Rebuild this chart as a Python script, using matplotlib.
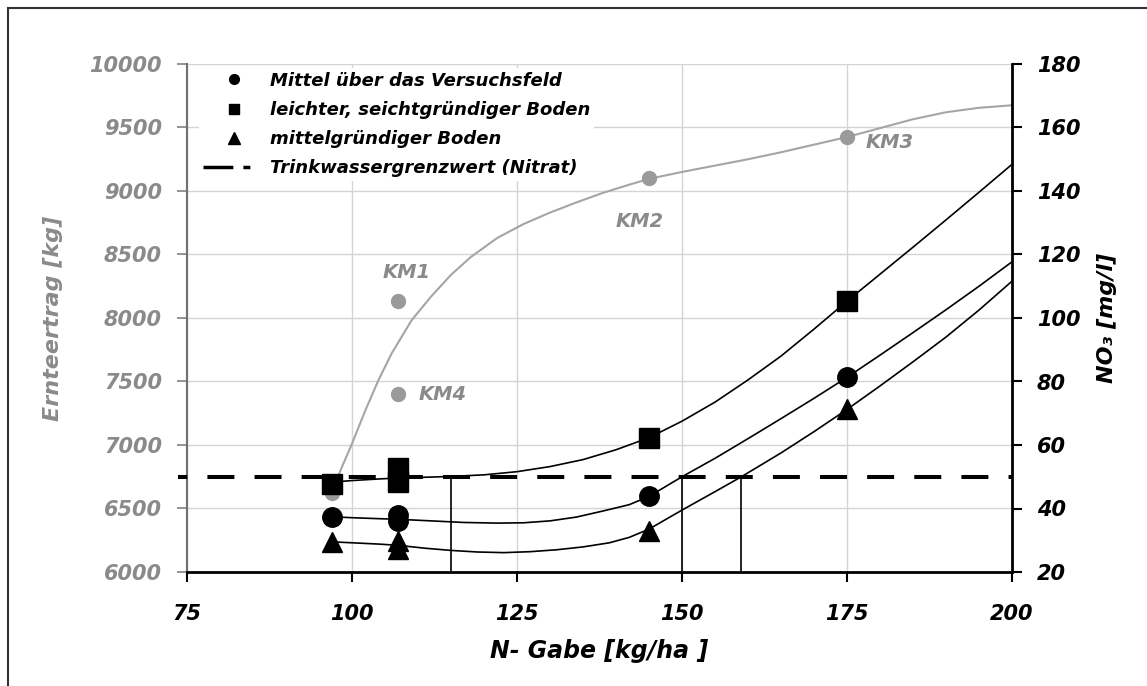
import matplotlib
matplotlib.use("Agg")
import matplotlib.pyplot as plt
from matplotlib.lines import Line2D

plt.rcParams['font.family'] = ['DejaVu Sans']
plt.rcParams['font.weight'] = 'bold'
plt.rcParams['font.style'] = 'italic'
plt.rcParams['axes.labelweight'] = 'bold'

# N-Gabe [kg/ha] der Messpunkte
n_gabe = [97, 107, 107, 145, 175]

# Ernteertrag [kg] (graue Punkte, linke Achse)
ertrag = [6620, 8130, 7400, 9100, 9425]
ertrag_labels = ['', 'KM1', 'KM4', 'KM2', 'KM3']

# Nitrat NO3 [mg/l] (rechte Achse)
mittel = [37.4, 38.0, 36.0, 43.8, 81.3]
leicht = [47.7, 52.9, 48.5, 62.3, 105.3]
mittelgr = [29.5, 29.8, 27.2, 33.0, 71.2]

# Ausgleichskurven
ertrag_kurve_x = [97, 98.5, 100, 102, 104, 106, 109, 112, 115, 118, 122, 126, 130,
                  134, 138, 142, 145, 150, 155, 160, 165, 170, 175, 180, 185, 190, 195, 200]
ertrag_kurve_y = [6640, 6830, 7010, 7270, 7510, 7720, 7980, 8170, 8340, 8480, 8630, 8740, 8830,
                  8910, 8985, 9050, 9095, 9150, 9200, 9250, 9305, 9365, 9425, 9495, 9565, 9620, 9655, 9675]

leicht_kurve_x = [97, 100, 104, 107, 112, 115, 120, 125, 130, 135, 140, 145, 150, 155, 160,
                  165, 170, 175, 180, 185, 190, 195, 200]
leicht_kurve_y = [48.3, 48.8, 49.3, 49.6, 49.9, 50.1, 50.6, 51.6, 53.2, 55.4, 58.5, 62.3, 67.5,
                  73.5, 80.5, 88.0, 96.5, 105.3, 113.8, 122.3, 130.9, 139.6, 148.4]

mittel_kurve_x = [97, 100, 104, 107, 112, 117, 122, 126, 130, 134, 138, 142, 145, 150, 155, 160,
                  165, 170, 175, 180, 185, 190, 195, 200]
mittel_kurve_y = [37.4, 37.1, 36.8, 36.6, 36.1, 35.6, 35.4, 35.5, 36.1, 37.3, 39.2, 41.2, 43.8,
                  50.0, 55.8, 62.0, 68.3, 74.7, 81.3, 88.3, 95.4, 102.6, 110.0, 117.7]

mittelgr_kurve_x = [97, 100, 104, 107, 111, 115, 119, 123, 127, 131, 135, 139, 142, 145, 150,
                    155, 159, 165, 170, 175, 180, 185, 190, 195, 200]
mittelgr_kurve_y = [29.5, 29.2, 28.8, 28.4, 27.5, 26.8, 26.3, 26.1, 26.4, 27.0, 27.9, 29.2, 30.9,
                    33.5, 39.5, 45.3, 50.0, 57.5, 64.2, 71.2, 78.6, 86.2, 94.0, 102.5, 111.6]

grenzwert = 50
schnittpunkte = [115, 150, 159]

grau = '#9a9a9a'
grau_text = '#8a8a8a'

fig = plt.figure(figsize=(11.47, 6.86), dpi=100)
ax = fig.add_axes([187 / 1147, 1 - 572 / 686, 825 / 1147, 508 / 686])
ax2 = ax.twinx()

# Rahmen um das Bild
fig.add_artist(Line2D([8 / 1147, 8 / 1147], [0, 1 - 8 / 686], transform=fig.transFigure,
                      color='#333333', lw=1.5))
fig.add_artist(Line2D([8 / 1147, 1], [1 - 8 / 686, 1 - 8 / 686], transform=fig.transFigure,
                      color='#333333', lw=1.5))

# linke Achse: Ertrag
ax.set_xlim(75, 200)
ax.set_ylim(6000, 10000)
ax.set_xticks(range(75, 201, 25))
ax.set_yticks(range(6000, 10001, 500))
ax.grid(True, color='#d4d4d4', lw=1)
ax.set_axisbelow(True)
ax.plot(ertrag_kurve_x, ertrag_kurve_y, color='#a5a5a5', lw=1.5, zorder=2)
ax.plot(n_gabe, ertrag, 'o', color=grau, ms=10, zorder=3)
offsets = [(0, 0), (6, 21), (32, 0), (-7, -31), (31, -4)]
for x, y, lab, off in zip(n_gabe, ertrag, ertrag_labels, offsets):
    if lab:
        ax.annotate(lab, (x, y), xytext=off, textcoords='offset points', ha='center',
                    va='center', color=grau_text, fontsize=14)

# rechte Achse: Nitrat
ax2.set_ylim(20, 180)
ax2.set_yticks(range(20, 181, 20))
ax2.axhline(grenzwert, xmin=-0.011, xmax=1, color='black', lw=2.9, clip_on=False,
            linestyle=(4.4, (6.7, 5)))
ax2.vlines(schnittpunkte, 20, grenzwert, color='black', lw=1.2)
ax2.plot(leicht_kurve_x, leicht_kurve_y, color='black', lw=1.2)
ax2.plot(mittel_kurve_x, mittel_kurve_y, color='black', lw=1.2)
ax2.plot(mittelgr_kurve_x, mittelgr_kurve_y, color='black', lw=1.2)
ax2.plot(n_gabe, leicht, 's', color='black', ms=14)
ax2.plot(n_gabe, mittel, 'o', color='black', ms=14)
ax2.plot(n_gabe, mittelgr, '^', color='black', ms=15)

# Achsen-Styling
ax.spines['top'].set_visible(False)
ax2.spines['top'].set_visible(False)
ax.spines['right'].set_visible(False)
ax2.spines['left'].set_visible(False)
ax2.spines['bottom'].set_visible(False)
ax.spines['left'].set_color('#707070')
ax.spines['left'].set_linewidth(1.5)
ax.spines['bottom'].set_linewidth(2)
ax2.spines['right'].set_linewidth(2)

ax.tick_params(axis='y', colors='#808080', labelcolor=grau_text, labelsize=15,
               direction='out', length=7, width=1.2, pad=11)
ax.tick_params(axis='x', labelsize=15, direction='out', length=7, width=1.5, pad=16)
ax2.tick_params(axis='y', labelsize=15, direction='out', length=7, width=1.5, pad=11)

ax.set_xlabel('N- Gabe [kg/ha ]', fontsize=17, fontweight='bold')
ax.xaxis.set_label_coords(0.5, -0.132)
ax.set_ylabel('Ernteertrag [kg]', fontsize=16, color=grau_text, fontweight='bold')
ax.yaxis.set_label_coords(-0.150, 0.5)
ax2.set_ylabel('NO₃ [mg/l]', fontsize=16, fontweight='bold')
ax2.yaxis.set_label_coords(1.103, 0.5)

handles = [
    Line2D([], [], marker='o', color='black', ls='none', ms=7),
    Line2D([], [], marker='s', color='black', ls='none', ms=7),
    Line2D([], [], marker='^', color='black', ls='none', ms=8),
    Line2D([], [], color='black', lw=2.5, dashes=(8.6, 2.9, 2.0, 20)),
]
labels = ['Mittel über das Versuchsfeld', 'leichter, seichtgründiger Boden',
          'mittelgründiger Boden', 'Trinkwassergrenzwert (Nitrat)']
leg = ax2.legend(handles, labels, loc='upper left', bbox_to_anchor=(0.015, 0.992),
                 borderaxespad=0, borderpad=0.2, frameon=True, fancybox=False,
                 edgecolor='none', facecolor='white', framealpha=1,
                 prop={'size': 13, 'weight': 'bold', 'style': 'italic'},
                 handlelength=3.43, handletextpad=0.3, labelspacing=0.62)

fig.savefig('out.png', dpi=100)
